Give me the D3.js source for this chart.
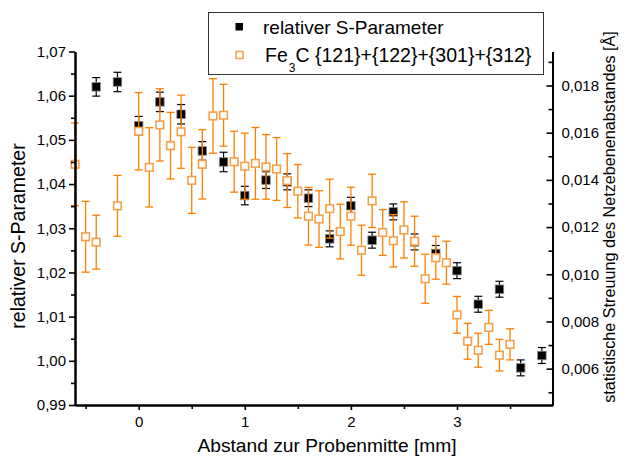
<!DOCTYPE html>
<html><head><meta charset="utf-8">
<script src="https://cdn.jsdelivr.net/npm/d3@7"></script>
<style>
html,body{margin:0;padding:0;background:#fff;}
svg{display:block;font-family:"Liberation Sans",Arial,sans-serif;}
</style></head>
<body>
<svg id="chart" width="629" height="459"></svg>
<script>
// ---- data ----
const sX   = [-0.4,-0.2,0.0,0.2,0.4,0.6,0.8,1.0,1.2,1.4,1.6,1.8,2.0,2.2,2.4,2.6,2.8,3.0,3.2,3.4,3.6,3.8];
const sVal = [1.0620,1.0631,1.0532,1.0586,1.0558,1.0475,1.0450,1.0374,1.0409,1.0405,1.0368,1.0276,1.0351,1.0273,1.0337,1.0269,1.0243,1.0204,1.0128,1.0162,0.9984,1.0012];
const sErr = [0.0021,0.0022,0.0021,0.0022,0.0022,0.0021,0.0022,0.0021,0.0019,0.0018,0.0019,0.0018,0.0019,0.0018,0.0018,0.0018,0.0018,0.0018,0.0018,0.0018,0.0018,0.0018];

const fX   = [-0.6,-0.5,-0.4,-0.2,0.0,0.1,0.2,0.3,0.4,0.5,0.6,0.7,0.8,0.9,1.0,1.1,1.2,1.3,1.4,1.5,1.6,1.7,1.8,1.9,2.0,2.1,2.2,2.3,2.4,2.5,2.6,2.7,2.8,2.9,3.0,3.1,3.2,3.3,3.4,3.5];
const fVal = [0.01466,0.01159,0.01136,0.01290,0.01606,0.01453,0.01633,0.01545,0.01604,0.01398,0.01466,0.01671,0.01674,0.01477,0.01458,0.01470,0.01455,0.01446,0.01397,0.01352,0.01246,0.01234,0.01278,0.01181,0.01246,0.01102,0.01311,0.01177,0.01142,0.01188,0.01140,0.00981,0.01070,0.01049,0.00828,0.00716,0.00678,0.00775,0.00657,0.00703];
const fErr = [0.00175,0.00150,0.00114,0.00129,0.00164,0.00168,0.00153,0.00141,0.00155,0.00140,0.00147,0.00158,0.00131,0.00129,0.00140,0.00152,0.00137,0.00133,0.00114,0.00113,0.00122,0.00120,0.00125,0.00116,0.00123,0.00106,0.00113,0.00097,0.00111,0.00119,0.00106,0.00104,0.00091,0.00091,0.00078,0.00076,0.00072,0.00072,0.00067,0.00066];

const xTicks      = [0,1,2,3];
const xMinorTicks = [-0.5,0.5,1.5,2.5,3.5];
const yLeftTicks  = [0.99,1.00,1.01,1.02,1.03,1.04,1.05,1.06,1.07];
const yLeftMinor  = [0.995,1.005,1.015,1.025,1.035,1.045,1.055,1.065];
const yRightTicks = [0.006,0.008,0.010,0.012,0.014,0.016,0.018];
const yRightMinor = [0.005,0.007,0.009,0.011,0.013,0.015,0.017,0.019];

const legendLabels = ["relativer S-Parameter"];
const xTitle = "Abstand zur Probenmitte [mm]";
const yLeftTitle = "relativer S-Parameter";
const yRightTitle = "statistische Streuung des Netzebenenabstandes [Å]";

// ---- scales ----
const L = 75, R = 552.5, T = 51.5, B = 405;
const x  = d3.scaleLinear().domain([-0.6, 3.9]).range([L, R]);
const yL = d3.scaleLinear().domain([0.99, 1.07]).range([B, T]);
const yR = d3.scaleLinear().domain([0.00446, 0.01944]).range([B, T]);

const loc = d3.formatLocale({decimal:",", thousands:".", grouping:[3], currency:["","€"]});
const svg = d3.select("#chart");
const ORANGE = "#ff7f00", ORANGE_M = "#f7a04c";

// ---- black series ----
const sData = sX.map((v,i)=>({x:v, y:sVal[i], e:sErr[i]}));
const gS = svg.append("g");
const cap = 4;
sData.forEach(d=>{
  const cx = x(d.x), y1 = yL(d.y+d.e), y2 = yL(d.y-d.e);
  gS.append("line").attr("x1",cx).attr("x2",cx).attr("y1",y1).attr("y2",y2).attr("stroke","#000").attr("stroke-width",1.2);
  gS.append("line").attr("x1",cx-cap).attr("x2",cx+cap).attr("y1",y1).attr("y2",y1).attr("stroke","#000").attr("stroke-width",1.2);
  gS.append("line").attr("x1",cx-cap).attr("x2",cx+cap).attr("y1",y2).attr("y2",y2).attr("stroke","#000").attr("stroke-width",1.2);
});
gS.selectAll("rect").data(sData).join("rect")
  .attr("x",d=>x(d.x)-4.25).attr("y",d=>yL(d.y)-4.25).attr("width",8.5).attr("height",8.5)
  .attr("fill","#000").attr("stroke","#888").attr("stroke-width",0.8);

// ---- orange series ----
const fData = fX.map((v,i)=>({x:v, y:fVal[i], e:fErr[i]}));
const gF = svg.append("g");
fData.forEach(d=>{
  const cx = x(d.x), y1 = yR(d.y+d.e), y2 = yR(d.y-d.e);
  gF.append("line").attr("x1",cx).attr("x2",cx).attr("y1",y1).attr("y2",y2).attr("stroke",ORANGE).attr("stroke-width",1.3);
  gF.append("line").attr("x1",cx-cap).attr("x2",cx+cap).attr("y1",y1).attr("y2",y1).attr("stroke",ORANGE).attr("stroke-width",1.3);
  gF.append("line").attr("x1",cx-cap).attr("x2",cx+cap).attr("y1",y2).attr("y2",y2).attr("stroke",ORANGE).attr("stroke-width",1.3);
});
gF.selectAll("rect").data(fData).join("rect")
  .attr("x",d=>x(d.x)-3.8).attr("y",d=>yR(d.y)-3.8).attr("width",7.6).attr("height",7.6)
  .attr("fill","#fff").attr("stroke",ORANGE_M).attr("stroke-width",1.6);

// ---- axes ----
function styleAxis(g){
  g.select(".domain").attr("stroke","#000").attr("stroke-width",2);
  g.selectAll(".tick line").attr("stroke","#000").attr("stroke-width",1.6);
  g.selectAll("text").attr("font-family","Liberation Sans, Arial, sans-serif").attr("font-size",15).attr("fill","#000");
}
// bottom
const gx = svg.append("g").attr("transform",`translate(0,${B})`)
  .call(d3.axisBottom(x).tickValues(xTicks).tickSize(5).tickPadding(6).tickSizeOuter(0).tickFormat(d3.format("d")));
styleAxis(gx);
const gxm = svg.append("g").attr("transform",`translate(0,${B})`)
  .call(d3.axisBottom(x).tickValues(xMinorTicks).tickSize(4).tickSizeOuter(0).tickFormat(""));
styleAxis(gxm);
// left
const gl = svg.append("g").attr("transform",`translate(${L},0)`)
  .call(d3.axisLeft(yL).tickValues(yLeftTicks).tickSize(6).tickPadding(3).tickSizeOuter(0).tickFormat(loc.format(".2f")));
styleAxis(gl);
const glm = svg.append("g").attr("transform",`translate(${L},0)`)
  .call(d3.axisLeft(yL).tickValues(yLeftMinor).tickSize(4).tickSizeOuter(0).tickFormat(""));
styleAxis(glm);
// right (ticks inward)
const gr = svg.append("g").attr("transform",`translate(${R},0)`)
  .call(d3.axisRight(yR).tickValues(yRightTicks).tickSize(-6).tickPadding(9).tickSizeOuter(0).tickFormat(loc.format(".3f")));
styleAxis(gr);
const grm = svg.append("g").attr("transform",`translate(${R},0)`)
  .call(d3.axisRight(yR).tickValues(yRightMinor).tickSize(-4).tickSizeOuter(0).tickFormat(""));
styleAxis(grm);

// ---- titles ----
svg.append("text").attr("x",327).attr("y",452).attr("text-anchor","middle")
  .attr("font-size",19.2).text(xTitle);
svg.append("text").attr("transform",`translate(25,236) rotate(-90)`).attr("text-anchor","middle")
  .attr("font-size",19.5).text(yLeftTitle);
svg.append("text").attr("transform",`translate(615,217) rotate(-90)`).attr("text-anchor","middle")
  .attr("font-size",16.2).text(yRightTitle);

// ---- legend ----
const lg = svg.append("g");
lg.append("rect").attr("x",208.5).attr("y",12.5).attr("width",335).attr("height",62)
  .attr("fill","#fff").attr("stroke","#333").attr("stroke-width",1);
lg.append("rect").attr("x",235.5).attr("y",23).attr("width",7.5).attr("height",7.5).attr("fill","#000");
lg.append("text").attr("x",263).attr("y",33.5).attr("font-size",19).text(legendLabels[0]);
lg.append("rect").attr("x",236).attr("y",51.5).attr("width",7).attr("height",7).attr("fill","#fff")
  .attr("stroke",ORANGE_M).attr("stroke-width",1.5);
const t2 = lg.append("text").attr("x",265).attr("y",62).attr("font-size",19.5);
t2.append("tspan").text("Fe");
t2.append("tspan").attr("font-size",12).attr("dy",10).attr("dx",1).text("3");
t2.append("tspan").attr("dy",-10).attr("dx",0).text("C {121}+{122}+{301}+{312}");
</script>
</body></html>
